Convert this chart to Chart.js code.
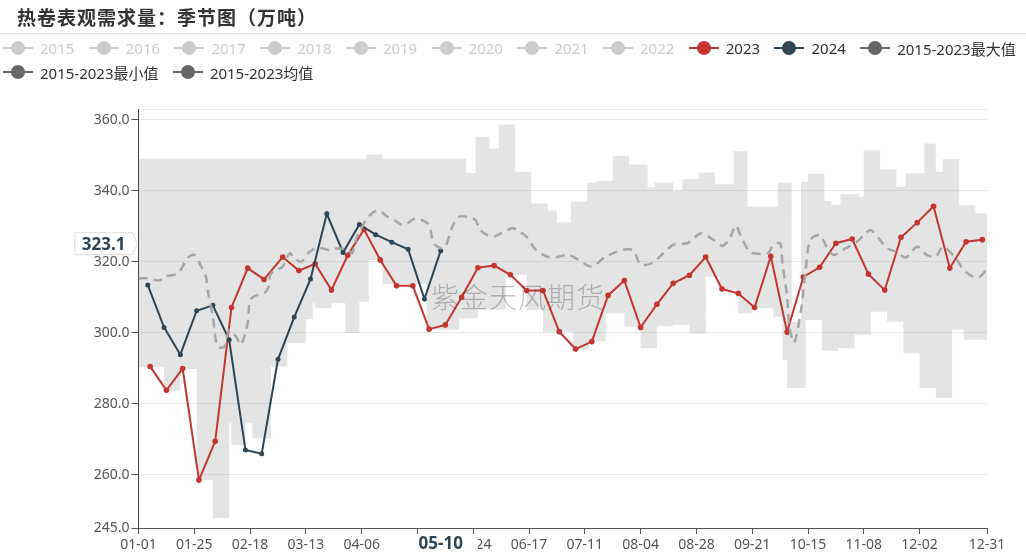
<!DOCTYPE html>
<html>
<head>
<meta charset="utf-8">
<script src="https://cdn.jsdelivr.net/npm/chart.js@4.4.1/dist/chart.umd.min.js"></script>
<style>
  body { margin: 0; background: #fff; font-family: "Noto Sans", "Noto Sans CJK SC", sans-serif; }
  #wrap { position: relative; width: 1026px; height: 559px; overflow: hidden; }
  #title { position: absolute; left: 17px; top: 4px; line-height: 25px; font-size: 19px; font-weight: bold; color: #333;
           letter-spacing: 1px; font-family: "Noto Sans CJK SC", sans-serif; }
  #rule { position: absolute; left: 0; top: 33px; width: 1026px; height: 1px; background: #ddd; }
  #legend { position: absolute; left: 3px; top: 36px; width: 1045px; display: flex; flex-wrap: wrap; }
  .item { display: flex; align-items: center; height: 24px; margin-right: 14.4px; font-size: 15px; color: #333; white-space: nowrap; }
  .item.off { color: #ccc; }
  .icon { position: relative; width: 30px; height: 14px; margin-right: 7px; }
  .icon .ln { position: absolute; left: 0; right: 0; top: 6px; height: 2px; }
  .icon .dot { position: absolute; left: 8px; top: 0; width: 14px; height: 14px; border-radius: 50%; }
  #watermark { position: absolute; left: 431px; top: 281px; font-size: 28px; line-height: 30px; color: rgba(0,0,0,0.25);
               font-family: "Noto Sans CJK SC", sans-serif; font-weight: 300; pointer-events: none; letter-spacing: 1px; }
  canvas { position: absolute; left: 0; top: 0; }
</style>
</head>
<body>
<div id="wrap">
  <canvas id="seasonChart" width="1026" height="559"></canvas>
  <div id="title">热卷表观需求量：季节图（万吨）</div>
  <div id="rule"></div>
  <div id="legend"></div>
  <div id="watermark">紫金天风期货</div>
</div>
<script>
// ---- data ----
const legendNames = ['2015', '2016', '2017', '2018', '2019', '2020', '2021', '2022', '2023', '2024',
                     '2015-2023最大值', '2015-2023最小值', '2015-2023均值'];
const legendOff = ['2015', '2016', '2017', '2018', '2019', '2020', '2021', '2022'];

const values2023 = [290.5, 283.8, 289.9, 258.5, 269.4, 307.1, 318.2, 315.0, 321.3, 317.5,
                    319.4, 312.0, 321.8, 329.1, 320.5, 313.2, 313.2, 301.0, 302.2, 310.0,
                    318.3, 318.9, 316.3, 311.9, 311.9, 300.3, 295.4, 297.5, 310.5, 314.7,
                    301.5, 308.0, 313.9, 316.2, 321.3, 312.3, 311.1, 307.1, 321.5, 300.2,
                    315.7, 318.4, 325.2, 326.4, 316.5, 312.0, 326.9, 331.0, 335.6, 318.2,
                    325.6, 326.2];
const values2024 = [313.4, 301.5, 293.8, 306.2, 307.7, 298.0, 267.0, 265.9, 292.5, 304.4,
                    315.1, 333.5, 322.6, 330.5, 327.6, 325.5, 323.5, 309.5, 323.1];

// 2015-2023 max / min: day of year (leap-year axis) where each step starts, and its value
const maxDays = [0, 98, 105, 141, 145, 151, 155, 162, 169, 176, 180, 186, 193, 197, 204, 211, 219, 222, 230, 234,
                 241, 248, 256, 262, 275, 281, 285, 288, 295, 298, 302, 310, 312, 319, 326, 330, 338, 343, 346, 353,
                 360, 365];
const maxVals = [349.0, 350.2, 349.0, 345.0, 355.2, 351.9, 358.6, 345.3, 336.4, 334.4, 331.1, 336.9, 342.2, 342.8,
                 349.8, 347.4, 340.9, 342.2, 340.0, 343.3, 345.1, 341.8, 351.1, 335.5, 342.2, 303.0, 342.5, 344.7,
                 337.1, 336.0, 339.0, 338.3, 351.4, 346.0, 341.1, 344.9, 353.3, 345.3, 348.9, 335.9, 333.6, 333.6];
const minDays = [0, 11, 18, 25, 32, 39, 40, 46, 49, 57, 64, 72, 75, 76, 83, 89, 95, 99, 105, 124,
                 138, 146, 158, 167, 174, 187, 194, 201, 209, 216, 223, 230, 237, 244, 250, 258, 264, 273, 277, 279,
                 287, 294, 301, 308, 315, 322, 329, 336, 343, 350, 355, 365];
const minVals = [290.3, 283.7, 289.8, 258.5, 247.8, 274.5, 268.4, 274.5, 270.2, 290.5,
                 297.0, 303.8, 308.3, 306.9, 308.3, 299.9, 308.7, 320.5, 313.7, 300.8,
                 304.1, 306.5, 316.3, 306.4, 300.3, 295.3, 297.5, 305.5, 301.7, 295.6,
                 301.8, 302.2, 299.8, 315.8, 312.0, 305.5, 306.9, 304.5, 292.3, 284.4,
                 303.6, 294.9, 295.6, 299.4, 305.9, 303.1, 294.2, 284.4, 281.6, 300.9,
                 298.0, 298.0];

// 2015-2023 mean (dashed)
const meanDays = [0, 4, 9, 11, 17, 21, 24, 27, 29, 30, 32, 34, 37, 39, 42, 44, 47, 48, 51, 54,
                  56, 57, 62, 65, 67, 70, 73, 76, 79, 82, 86, 90, 92, 94, 99, 103, 107, 110, 114, 119,
                  122, 125, 127, 130, 132, 135, 138, 142, 145, 147, 152, 156, 161, 164, 167, 171, 176, 180, 185, 189,
                  195, 200, 205, 210, 213, 216, 221, 225, 230, 236, 238, 242, 247, 251, 254, 257, 259, 263, 267, 271,
                  273, 276, 277, 279, 280, 282, 285, 287, 289, 293, 296, 299, 303, 309, 312, 315, 319, 322, 326, 330,
                  335, 339, 343, 346, 351, 355, 359, 362, 365];
const meanVals = [315.3, 315.3, 314.7, 315.8, 316.7, 321.0, 321.9, 318.6, 315.8, 311.1, 304.5, 296.1, 296.1, 300.8, 298.9, 296.6, 302.7, 309.2, 310.6, 311.1,
                  313.0, 316.7, 318.6, 322.4, 321.0, 320.0, 322.4, 323.8, 323.8, 323.3, 323.8, 323.3, 322.4, 327.0, 332.7, 334.5, 332.7, 331.7, 330.3, 332.2,
                  331.7, 330.3, 325.2, 323.8, 324.2, 329.8, 332.7, 332.5, 331.7, 328.9, 327.0, 328.0, 329.4, 328.4, 327.0, 323.3, 321.4, 321.3, 321.9, 320.6,
                  318.6, 321.0, 322.6, 323.5, 323.1, 319.2, 319.6, 321.9, 324.7, 325.2, 326.1, 328.0, 326.3, 324.5, 326.1, 330.2, 327.3, 322.8, 322.2, 322.5,
                  324.7, 325.2, 319.5, 310.2, 301.7, 297.2, 306.4, 317.7, 326.1, 327.5, 324.2, 321.9, 323.3, 325.6, 327.5, 328.9, 326.1, 323.8, 322.8, 321.2,
                  324.2, 321.9, 321.4, 324.2, 321.4, 317.7, 315.8, 315.8, 318.1];

const xTickDays = [0, 24, 48, 72, 96, 120, 144, 168, 192, 216, 240, 264, 288, 312, 336, 365];
const yTickVals = [245, 260, 280, 300, 320, 340, 360, 363];
const pointerDay = 130;      // 05-10
const pointerValue = 323.1;

const c2023 = '#c23531';
const c2024 = '#2f4554';
const cStat = '#666';

// ---- helpers ----
const pad = n => String(n).padStart(2, '0');
const dayToLabel = d => {
    const dt = new Date(Date.UTC(2024, 0, 1 + d));
    return pad(dt.getUTCMonth() + 1) + '-' + pad(dt.getUTCDate());
};
const labelToDay = s => {
    const [m, d] = s.split('-').map(Number);
    return (Date.UTC(2024, m - 1, d) - Date.UTC(2024, 0, 1)) / 86400000;
};
// weekly report dates, as mm-dd
function weeklyDates(y, m, d, n) {
    const out = [];
    for (let i = 0; i < n; i++) {
        const dt = new Date(Date.UTC(y, m - 1, d + i * 7));
        out.push(pad(dt.getUTCMonth() + 1) + '-' + pad(dt.getUTCDate()));
    }
    return out;
}
const dates2023 = weeklyDates(2023, 1, 6, values2023.length);
const dates2024 = weeklyDates(2024, 1, 5, values2024.length);

const toPoints = (dates, vals) => dates.map((s, i) => ({ x: labelToDay(s), y: vals[i] }));
const stepAt = (days, vals, d) => {
    let v = vals[0];
    days.forEach((dd, i) => { if (dd <= d) v = vals[i]; });
    return v;
};
const bandDays = [...new Set([...maxDays, ...minDays])].sort((a, b) => a - b);

// ---- legend (html) ----
const legendBox = document.getElementById('legend');
legendNames.forEach(name => {
    const off = legendOff.includes(name);
    let color = cStat;
    if (off) color = '#ccc';
    else if (name === '2023') color = c2023;
    else if (name === '2024') color = c2024;
    const item = document.createElement('div');
    item.className = 'item' + (off ? ' off' : '');
    item.innerHTML = '<span class="icon"><span class="ln" style="background:' + color + '"></span>' +
                     '<span class="dot" style="background:' + color + '"></span></span><span>' + name + '</span>';
    legendBox.appendChild(item);
});

// ---- axis pointer labels ----
const pointerLabels = {
    id: 'pointerLabels',
    afterDraw(chart) {
        const { ctx, chartArea, scales: { x, y } } = chart;
        ctx.save();
        ctx.font = 'bold 17px "Noto Sans"';
        ctx.textBaseline = 'middle';

        // x label (covers the tick labels underneath)
        const xl = dayToLabel(pointerDay);
        const px = x.getPixelForValue(pointerDay);
        const tw = ctx.measureText(xl).width;
        ctx.fillStyle = '#fff';
        ctx.fillRect(px - tw / 2 - 20, chartArea.bottom + 7, tw + 35, 24);
        ctx.fillStyle = c2024;
        ctx.textAlign = 'center';
        ctx.fillText(xl, px, chartArea.bottom + 16);

        // y label with arrow
        const yl = pointerValue.toFixed(1);
        const py = y.getPixelForValue(pointerValue) - 7;
        const yw = ctx.measureText(yl).width;
        const right = y.right - 6;
        const left = right - yw - 14;
        ctx.beginPath();
        ctx.moveTo(left, py - 11);
        ctx.lineTo(right, py - 11);
        ctx.lineTo(right + 5, py);
        ctx.lineTo(right, py + 11);
        ctx.lineTo(left, py + 11);
        ctx.closePath();
        ctx.fillStyle = '#fff';
        ctx.fill();
        ctx.strokeStyle = '#ddd';
        ctx.lineWidth = 1;
        ctx.stroke();
        ctx.fillStyle = c2024;
        ctx.textAlign = 'center';
        ctx.fillText(yl, (left + right) / 2, py + 1);
        ctx.restore();
    }
};

new Chart(document.getElementById('seasonChart'), {
    type: 'line',
    data: {
        datasets: [
            {
                label: '2015-2023均值',
                data: meanDays.map((d, i) => ({ x: d, y: meanVals[i] })),
                borderColor: '#a6a6a6',
                borderWidth: 2.5,
                borderDash: [9, 6],
                pointRadius: 0,
                tension: 0.3,
                fill: false
            },
            {
                label: '2024',
                data: toPoints(dates2024, values2024),
                borderColor: c2024,
                backgroundColor: c2024,
                borderWidth: 2,
                pointRadius: 2.5,
                pointBorderWidth: 0,
                fill: false
            },
            {
                label: '2023',
                data: toPoints(dates2023, values2023),
                borderColor: c2023,
                backgroundColor: c2023,
                borderWidth: 2,
                pointRadius: 2.8,
                pointBorderWidth: 0,
                fill: false
            },
            {
                label: '2015-2023最大值',
                data: bandDays.map(d => ({ x: d, y: stepAt(maxDays, maxVals, d) })),
                borderWidth: 0,
                borderColor: 'transparent',
                backgroundColor: 'rgba(150,150,150,0.26)',
                pointRadius: 0,
                stepped: true,
                fill: '+1'
            },
            {
                label: '2015-2023最小值',
                data: bandDays.map(d => ({ x: d, y: stepAt(minDays, minVals, d) })),
                borderWidth: 0,
                borderColor: 'transparent',
                pointRadius: 0,
                stepped: true,
                fill: false
            }
        ]
    },
    options: {
        responsive: false,
        animation: false,
        layout: { padding: { left: 0, right: 39, top: 109, bottom: 0 } },
        plugins: {
            legend: { display: false },
            tooltip: { enabled: false },
            filler: { drawTime: 'beforeDatasetsDraw' }
        },
        scales: {
            x: {
                type: 'linear',
                min: 0,
                max: 365,
                afterBuildTicks: s => { s.ticks = xTickDays.map(v => ({ value: v })); },
                afterFit: s => { s.height = 31; },
                grid: { drawOnChartArea: false, tickLength: 6, tickColor: '#555' },
                border: { color: '#555', width: 1 },
                ticks: {
                    autoSkip: false,
                    maxRotation: 0,
                    padding: 3,
                    color: '#555',
                    font: { family: '"Noto Sans"', size: 14 },
                    callback: v => dayToLabel(v)
                }
            },
            y: {
                min: 245,
                max: 363,
                afterBuildTicks: s => { s.ticks = yTickVals.map(v => ({ value: v })); },
                afterFit: s => { s.width = 138.5; },
                grid: {
                    color: '#e8e8e8',
                    tickLength: 7,
                    tickColor: c => (c.tick && c.tick.value === 363) ? 'transparent' : '#555'
                },
                border: { color: '#444', width: 1 },
                ticks: {
                    padding: 2,
                    color: '#555',
                    font: { family: '"Noto Sans"', size: 14 },
                    callback: v => v === 363 ? '' : v.toFixed(1)
                }
            }
        }
    },
    plugins: [pointerLabels]
});
</script>
</body>
</html>
